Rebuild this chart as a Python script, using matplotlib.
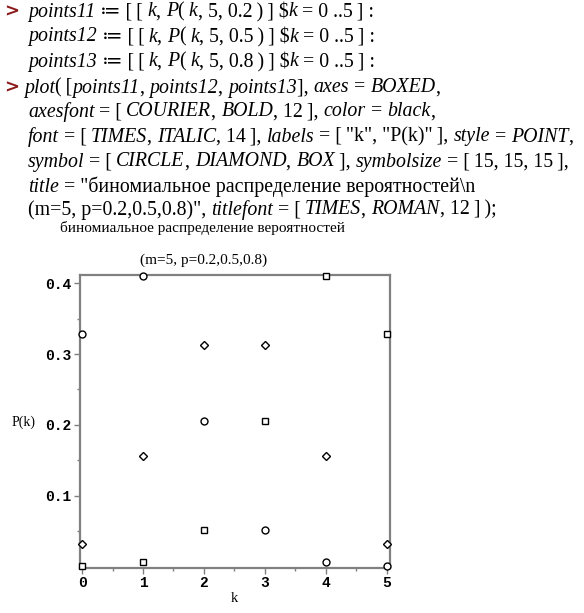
import matplotlib
matplotlib.use("Agg")
import matplotlib.pyplot as plt
from matplotlib.transforms import IdentityTransform

# data: binomial probabilities P(k, 5, p)
k_vals = [0, 1, 2, 3, 4, 5]
p_02 = [0.32768, 0.4096, 0.2048, 0.0512, 0.0064, 0.00032]
p_05 = [0.03125, 0.15625, 0.3125, 0.3125, 0.15625, 0.03125]
p_08 = [0.00032, 0.0064, 0.0512, 0.2048, 0.4096, 0.32768]
x_ticks = [0, 1, 2, 3, 4, 5]
y_ticks = [0.1, 0.2, 0.3, 0.4]
title_line1 = "биномиальное распределение вероятностей"
title_line2 = "(m=5, p=0.2,0.5,0.8)"

W, H = 584, 613
SERIF = ["Liberation Serif", "DejaVu Serif"]
MONO = ["Liberation Mono", "DejaVu Sans Mono"]
I, R = "italic", "normal"
ts = "\u2009"  # thin space, Maple pads its brackets

code_lines = [
    (28, 12, True, [("points11", I), (" \u2254 [" + ts + "[" + ts, R), ("k", I), (", ", R), ("P", I),
                    ("(" + ts, R), ("k", I), (", 5, 0.2" + ts + ")" + ts + "] $", R), ("k", I),
                    (" = 0 ..5" + ts + "] :", R)]),
    (28, 37, False, [("points12", I), (" \u2254 [" + ts + "[" + ts, R), ("k", I), (", ", R), ("P", I),
                     ("(" + ts, R), ("k", I), (", 5, 0.5" + ts + ")" + ts + "] $", R), ("k", I),
                     (" = 0 ..5" + ts + "] :", R)]),
    (28, 62, False, [("points13", I), (" \u2254 [" + ts + "[" + ts, R), ("k", I), (", ", R), ("P", I),
                     ("(" + ts, R), ("k", I), (", 5, 0.8" + ts + ")" + ts + "] $", R), ("k", I),
                     (" = 0 ..5" + ts + "] :", R)]),
    (24, 88, True, [("plot", I), ("(" + ts + "[", R), ("points11", I), (", ", R), ("points12", I), (", ", R),
                    ("points13", I), ("], ", R), ("axes", I), (" = ", R), ("BOXED", I), (",", R)]),
    (28, 112, False, [("axesfont", I), (" = [" + ts, R), ("COURIER", I), (", ", R), ("BOLD", I),
                      (", 12" + ts + "], ", R), ("color", I), (" = ", R), ("black", I), (",", R)]),
    (28, 137, False, [("font", I), (" = [" + ts, R), ("TIMES", I), (", ", R), ("ITALIC", I),
                      (", 14" + ts + "], ", R), ("labels", I), (' = [' + ts + '"k", "P(k)"' + ts + '], ', R),
                      ("style", I), (" = ", R), ("POINT", I), (",", R)]),
    (28, 162, False, [("symbol", I), (" = [" + ts, R), ("CIRCLE", I), (", ", R), ("DIAMOND", I), (", ", R),
                      ("BOX", I), (ts + "], ", R), ("symbolsize", I), (" = [" + ts + "15, 15, 15" + ts + "],", R)]),
    (28, 187, False, [("title", I), (' = "' + title_line1 + "\\n", R)]),
    (28, 210, False, [(title_line2 + '", ', R), ("titlefont", I), (" = [" + ts, R), ("TIMES", I), (", ", R),
                      ("ROMAN", I), (", 12" + ts + "]" + ts + ");", R)]),
]

fig = plt.figure(figsize=(W / 100, H / 100), dpi=100, facecolor="white")
renderer = fig.canvas.get_renderer()
ident = IdentityTransform()

for x0, y0, prompt, parts in code_lines:
    if prompt:
        fig.text(4, H - y0, ">", transform=ident, fontsize=13, fontweight="bold",
                 color="#8b1a1a", family=["DejaVu Sans"], va="center", ha="left")
    x = x0
    for s, st in parts:
        t = fig.text(x, H - y0, s, transform=ident, fontsize=14.3, style=st, family=SERIF,
                     va="center", ha="left", color="black")
        x += t.get_window_extent(renderer).width

# plot title, two lines centred at the same x
fig.text(203, H - 228, title_line1, transform=ident, fontsize=11, family=SERIF,
         va="center", ha="center")
fig.text(204, H - 260, title_line2, transform=ident, fontsize=11, family=SERIF,
         va="center", ha="center")

ax = fig.add_axes([80 / W, 1 - 567.7 / H, 310 / W, (567.7 - 275) / H])
kw = dict(linestyle="none", markerfacecolor="white", markeredgecolor="black",
          markeredgewidth=1, clip_on=False, zorder=5)
ax.plot(k_vals, p_02, marker="o", markersize=5, **kw)
ax.plot(k_vals, p_05, marker="D", markersize=3.6, **kw)
ax.plot(k_vals, p_08, marker="s", markersize=5, **kw)

ax.set_xlim(-0.033, 5.05)
ax.set_ylim(-0.0017, 0.4117)
ax.set_xticks(x_ticks)
ax.set_xticks([0.5, 1.5, 2.5, 3.5, 4.5], minor=True)
ax.set_yticks(y_ticks)
ax.set_yticks([0.05, 0.15, 0.25, 0.35], minor=True)
ax.set_xticklabels([str(v) for v in x_ticks])
ax.set_yticklabels([f"{v:.1f}" for v in y_ticks])
for lab in ax.get_xticklabels() + ax.get_yticklabels():
    lab.set_family(MONO)
    lab.set_fontweight("bold")
    lab.set_fontsize(10.5)
ax.tick_params(which="major", direction="out", length=4, width=1, color="#808080", pad=2)
ax.tick_params(which="minor", direction="out", length=2.5, width=1, color="#808080")
for sp in ax.spines.values():
    sp.set_color("#808080")
    sp.set_linewidth(1.6)

fig.text(12, H - 422, "P(k)", transform=ident, family=SERIF, fontsize=10,
         va="center", ha="left")
fig.text(234, H - 599, "k", transform=ident, family=SERIF, fontsize=10.5,
         va="center", ha="center")

fig.savefig("out.png", dpi=100, facecolor="white")
